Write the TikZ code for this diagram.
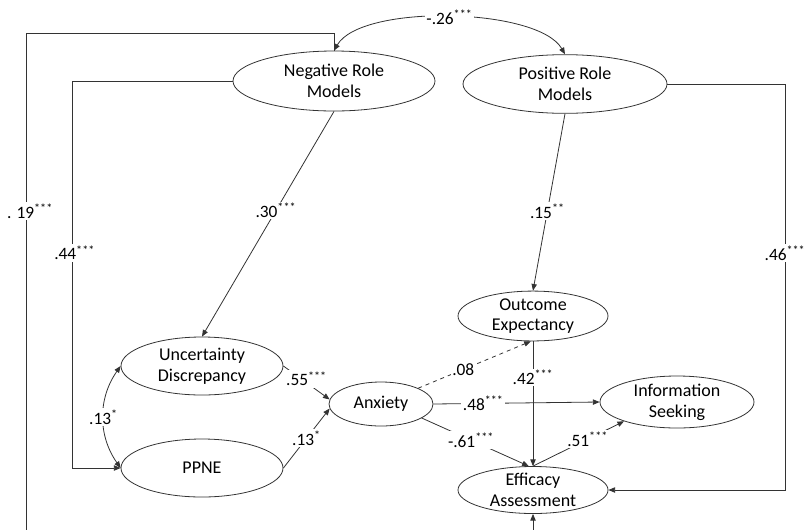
\documentclass[tikz,border=0pt]{standalone}
\usepackage{fontspec}
\setmainfont{Carlito}
\usetikzlibrary{shapes.geometric,arrows.meta}

\tikzset{
  latent/.style={draw=black!80, line width=0.6pt, ellipse, align=center, inner sep=0pt, font=\fontsize{13.5}{15.5}\selectfont},
  coef/.style={fill=white, inner sep=1.2pt, font=\fontsize{13}{15}\selectfont},
  link/.style={draw=black!80, line width=0.6pt, -{Triangle[length=5pt,width=4pt]}},
  covlink/.style={draw=black!80, line width=0.6pt, {Triangle[length=5pt,width=4pt]}-{Triangle[length=5pt,width=4pt]}},
}
\newcommand{\stars}[1]{\textsuperscript{#1}}

\begin{document}
\begin{tikzpicture}[x=0.75pt,y=0.75pt,yscale=-1,xscale=1]
\clip (0,0) rectangle (806,529);

% Latent variables
\node[latent, minimum width=151.5pt, minimum height=45pt] (neg) at (334,81) {Negative Role\\Models};
\node[latent, minimum width=153pt, minimum height=44pt] (pos) at (565,84) {Positive Role\\Models};
\node[latent, minimum width=112.5pt, minimum height=36pt] (out) at (533,316) {Outcome\\Expectancy};
\node[latent, minimum width=121.5pt, minimum height=43.5pt] (unc) at (202,366) {Uncertainty\\Discrepancy};
\node[latent, minimum width=121.5pt, minimum height=43.5pt] (ppne) at (202,468) {PPNE};
\node[latent, minimum width=78pt, minimum height=33pt] (anx) at (381,404) {Anxiety};
\node[latent, minimum width=115.5pt, minimum height=39pt] (info) at (677,402) {Information\\Seeking};
\node[latent, minimum width=112.5pt, minimum height=34.5pt] (eff) at (533,490) {Efficacy\\Assessment};

% Corner points of the long paths
\coordinate (t19) at (26,33);
\coordinate (b19) at (26,545);
\coordinate (c44) at (72,81);
\coordinate (c46) at (785,84);

% Covariance of the role models
\draw[covlink] (neg.north) to[out=-60,in=-120,looseness=0.6] node[coef] {-.26\stars{***}} (pos.north);

% Long paths
\draw[link] (neg.north) |- (t19) -- node[coef, pos=0.348, xshift=3pt] {. 19\stars{***}} (b19) -| (eff.south);
\draw[link] (neg.west) -- (c44) -- node[coef, pos=0.444, xshift=2pt] {.44\stars{***}} (c44 |- ppne.west) -- (ppne.west);
\draw[link] (pos.east) -- (c46) -- node[coef, pos=0.416] {.46\stars{***}} (c46 |- eff.east) -- (eff.east);

% Direct paths
\draw[link] (neg.south) -- node[coef, pos=0.44] {.30\stars{***}} (unc.north);
\draw[link] (pos.south) -- node[coef, pos=0.55] {.15\stars{**}} (out.north);
\draw[covlink] (unc.west) to[out=125,in=235] node[coef] {.13\stars{*}} (ppne.west);
\draw[link] (unc.east) -- node[coef, pos=0.5, yshift=3pt] {.55\stars{***}} (anx.175);
\draw[link] (ppne.east) -- node[coef, pos=0.5] {.13\stars{*}} (anx.185);
\draw[link, dashed] (anx.23) -- node[coef, pos=0.4] {.08} (out.265);
\draw[link] (out.south) -- node[coef, pos=0.29] {.42\stars{***}} (eff.north);
\draw[link] (anx.east) -- node[coef, pos=0.3] {.48\stars{***}} (info.west);
\draw[link] (anx.-19) -- node[coef, pos=0.46] {-.61\stars{***}} (eff.100);
\draw[link] (eff.north) -- node[coef, pos=0.6] {.51\stars{***}} (info.200);

\end{tikzpicture}
\end{document}
